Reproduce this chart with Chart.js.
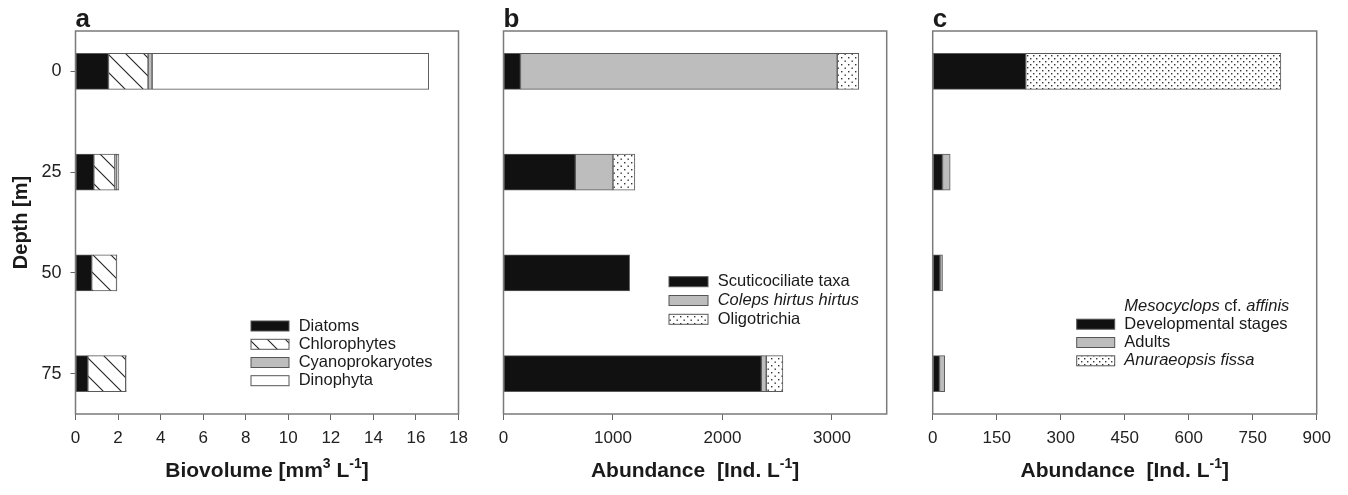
<!DOCTYPE html>
<html lang="en">
<head>
<meta charset="UTF-8">
<title>Depth profiles</title>
<script src="https://cdn.jsdelivr.net/npm/chart.js@4.4.1/dist/chart.umd.min.js"></script>
<style>
  body { margin: 0; background: #fff; }
  .wrap { position: relative; width: 1348px; height: 495px; }
  .wrap canvas { position: absolute; left: 0; top: 0; }
</style>
</head>
<body>
<div class="wrap">
  <canvas id="chartA" width="1348" height="495"></canvas>
  <canvas id="chartB" width="1348" height="495"></canvas>
  <canvas id="chartC" width="1348" height="495"></canvas>
</div>
<script>
// depths (m), shared by all three panels
const depths = [0, 25, 50, 75];
const depthTicks = [0, 25, 50, 75];

// a - phytoplankton biovolume [mm3 L-1]
const diatoms = [1.55, 0.86, 0.76, 0.58];
const chlorophytes = [1.86, 0.99, 1.17, 1.78];
const cyanoprokaryotes = [0.19, 0.09, 0.02, 0.03];
const dinophyta = [13.0, 0.10, 0, 0];
const bioTicks = [0, 2, 4, 6, 8, 10, 12, 14, 16, 18];

// b - ciliate abundance [Ind. L-1]
const scuticociliates = [155, 656, 1152, 2355];
const coleps = [2893, 344, 0, 45];
const oligotrichia = [197, 200, 0, 152];
const ciliateTicks = [0, 1000, 2000, 3000];

// c - metazoan abundance [Ind. L-1]
const devStages = [218, 23, 17, 16];
const adults = [0, 18, 6, 12];
const anuraeopsis = [598, 0, 0, 0];
const zooTicks = [0, 150, 300, 450, 600, 750, 900];

const FONT = '"Liberation Sans", Arial, sans-serif';
const BLACK = '#111111';
const GRAY = '#bdbdbd';

function fontStr(size, bold, italic) {
  return (italic ? 'italic ' : '') + (bold ? 'bold ' : '') + size + 'px ' + FONT;
}

// fill patterns
function hatchPattern() {
  const c = document.createElement('canvas');
  c.width = 18; c.height = 18;
  const g = c.getContext('2d');
  g.fillStyle = '#fff'; g.fillRect(0, 0, 18, 18);
  g.strokeStyle = '#222'; g.lineWidth = 1.1;
  g.beginPath();
  g.moveTo(-2, -2); g.lineTo(20, 20);
  g.moveTo(16, -2); g.lineTo(20, 2);
  g.moveTo(-2, 16); g.lineTo(2, 20);
  g.stroke();
  return g.createPattern(c, 'repeat');
}
function dotPattern(size) {
  const c = document.createElement('canvas');
  c.width = size; c.height = size;
  const g = c.getContext('2d');
  g.fillStyle = '#fff'; g.fillRect(0, 0, size, size);
  g.fillStyle = '#333';
  g.fillRect(1, 1, 1.4, 1.4);
  g.fillRect(1 + size / 2, 1 + size / 2, 1.4, 1.4);
  return g.createPattern(c, 'repeat');
}
const HATCH = hatchPattern();
const DOTS_B = dotPattern(7);
const DOTS_C = dotPattern(6);

// rich text: parts = [text, italic, superscript]
function drawRich(ctx, parts, x, y, size, bold, align) {
  const supSize = Math.round(size * 0.68);
  let total = 0;
  parts.forEach(p => {
    ctx.font = fontStr(p[2] ? supSize : size, bold, p[1]);
    total += ctx.measureText(p[0]).width;
  });
  let cx = align === 'center' ? x - total / 2 : x;
  ctx.textAlign = 'left';
  parts.forEach(p => {
    ctx.font = fontStr(p[2] ? supSize : size, bold, p[1]);
    ctx.fillText(p[0], cx, p[2] ? y - size * 0.42 : y);
    cx += ctx.measureText(p[0]).width;
  });
}

const panelPlugin = {
  id: 'panelText',
  afterDraw(chart, args, opts) {
    const ctx = chart.ctx;
    const a = chart.chartArea;
    ctx.save();
    // frame
    ctx.strokeStyle = '#7a7a7a';
    ctx.lineWidth = 1.5;
    ctx.strokeRect(a.left, a.top, a.right - a.left, a.bottom - a.top);
    ctx.fillStyle = '#1a1a1a';
    // panel letter
    ctx.textBaseline = 'alphabetic';
    ctx.font = fontStr(26, true, false);
    ctx.textAlign = 'left';
    ctx.fillText(opts.letter, a.left, 27);
    // x title
    drawRich(ctx, opts.xTitle, (a.left + a.right) / 2, 477, 21, true, 'center');
    // y title
    if (opts.yTitle) {
      ctx.save();
      ctx.translate(27, (a.top + a.bottom) / 2);
      ctx.rotate(-Math.PI / 2);
      ctx.font = fontStr(20, true, false);
      ctx.textAlign = 'center';
      ctx.fillText(opts.yTitle, 0, 0);
      ctx.restore();
    }
    // legend
    const lg = opts.legend;
    ctx.textBaseline = 'middle';
    lg.rows.forEach(r => {
      if (r.ds !== undefined) {
        const ds = chart.data.datasets[r.ds];
        ctx.fillStyle = ds.backgroundColor;
        ctx.fillRect(lg.x, r.y - lg.h / 2, lg.w, lg.h);
        ctx.strokeStyle = '#555';
        ctx.lineWidth = 1;
        ctx.strokeRect(lg.x, r.y - lg.h / 2, lg.w, lg.h);
      }
      ctx.fillStyle = '#1a1a1a';
      drawRich(ctx, r.parts, lg.textX, r.y, 16.5, false, 'left');
    });
    ctx.restore();
  }
};

function panel(id, cfg) {
  return new Chart(document.getElementById(id), {
    type: 'bar',
    data: {
      datasets: cfg.series.map(s => ({
        label: s.name,
        data: depths.map((d, i) => ({ y: d, x: s.values[i] || null })),
        backgroundColor: s.fill,
        borderColor: '#5a5a5a',
        borderWidth: 1,
        borderSkipped: false,
        barThickness: 36
      }))
    },
    options: {
      indexAxis: 'y',
      responsive: false,
      animation: false,
      layout: { padding: { top: 31, bottom: 0, left: cfg.left, right: 1348 - cfg.right } },
      plugins: {
        legend: { display: false },
        tooltip: { enabled: false },
        panelText: cfg.text
      },
      scales: {
        x: {
          type: 'linear', stacked: true, min: 0, max: cfg.max,
          afterBuildTicks: s => { s.ticks = cfg.ticks.map(v => ({ value: v })); },
          afterFit: s => { s.height = 81; },
          grid: { drawOnChartArea: false, drawTicks: true, tickLength: 6, color: '#666' },
          border: { display: false },
          ticks: { font: { family: FONT, size: 17 }, color: '#222', padding: 8, maxRotation: 0, autoSkip: false,
                   callback: v => String(v) }
        },
        y: {
          type: 'linear', stacked: true, reverse: true, min: -10, max: 85,
          offset: false,
          display: cfg.showY,
          afterBuildTicks: s => { s.ticks = depthTicks.map(v => ({ value: v })); },
          afterFit: s => { s.width = cfg.left ? 0 : 75.5; },
          grid: { offset: false, drawOnChartArea: false, drawTicks: true, tickLength: 5, color: '#666' },
          border: { display: false },
          ticks: { font: { family: FONT, size: 18 }, color: '#222', padding: 9, callback: v => String(v) }
        }
      }
    },
    plugins: [panelPlugin]
  });
}

panel('chartA', {
  left: 0, right: 458.5, max: 18, ticks: bioTicks, showY: true,
  series: [
    { name: 'Diatoms', values: diatoms, fill: BLACK },
    { name: 'Chlorophytes', values: chlorophytes, fill: HATCH },
    { name: 'Cyanoprokaryotes', values: cyanoprokaryotes, fill: GRAY },
    { name: 'Dinophyta', values: dinophyta, fill: '#ffffff' }
  ],
  text: {
    letter: 'a', yTitle: 'Depth [m]',
    xTitle: [['Biovolume [mm', false, false], ['3', false, true], [' L', false, false], ['-1', false, true], [']', false, false]],
    legend: { x: 251, w: 38, h: 10, textX: 298.7, rows: [
      { y: 326, ds: 0, parts: [['Diatoms', false, false]] },
      { y: 344.3, ds: 1, parts: [['Chlorophytes', false, false]] },
      { y: 362.5, ds: 2, parts: [['Cyanoprokaryotes', false, false]] },
      { y: 380.7, ds: 3, parts: [['Dinophyta', false, false]] }
    ] }
  }
});

panel('chartB', {
  left: 503.5, right: 886.7, max: 3500, ticks: ciliateTicks, showY: false,
  series: [
    { name: 'Scuticociliate taxa', values: scuticociliates, fill: BLACK },
    { name: 'Coleps hirtus hirtus', values: coleps, fill: GRAY },
    { name: 'Oligotrichia', values: oligotrichia, fill: DOTS_B }
  ],
  text: {
    letter: 'b',
    xTitle: [['Abundance  [Ind. L', false, false], ['-1', false, true], [']', false, false]],
    legend: { x: 669, w: 39, h: 10, textX: 717.7, rows: [
      { y: 281.7, ds: 0, parts: [['Scuticociliate taxa', false, false]] },
      { y: 300.5, ds: 1, parts: [['Coleps hirtus hirtus', true, false]] },
      { y: 319.3, ds: 2, parts: [['Oligotrichia', false, false]] }
    ] }
  }
});

panel('chartC', {
  left: 932.7, right: 1316.7, max: 900, ticks: zooTicks, showY: false,
  series: [
    { name: 'Developmental stages', values: devStages, fill: BLACK },
    { name: 'Adults', values: adults, fill: GRAY },
    { name: 'Anuraeopsis fissa', values: anuraeopsis, fill: DOTS_C }
  ],
  text: {
    letter: 'c',
    xTitle: [['Abundance  [Ind. L', false, false], ['-1', false, true], [']', false, false]],
    legend: { x: 1076.7, w: 38, h: 10, textX: 1124.3, rows: [
      { y: 306.7, parts: [['Mesocyclops', true, false], [' cf. ', false, false], ['affinis', true, false]] },
      { y: 324.2, ds: 0, parts: [['Developmental stages', false, false]] },
      { y: 342.5, ds: 1, parts: [['Adults', false, false]] },
      { y: 360.8, ds: 2, parts: [['Anuraeopsis fissa', true, false]] }
    ] }
  }
});
</script>
</body>
</html>
